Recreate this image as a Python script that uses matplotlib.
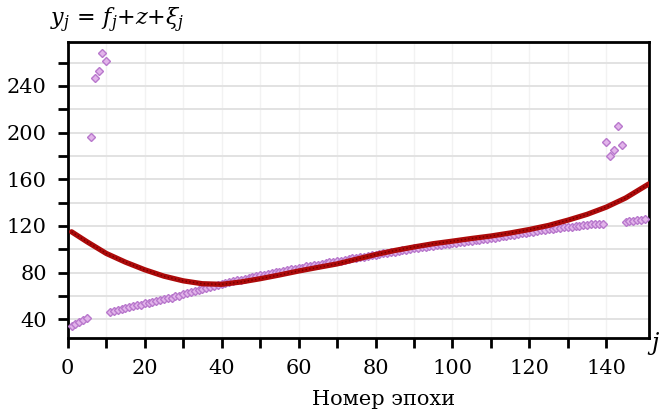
import matplotlib
matplotlib.use('Agg')
import matplotlib.pyplot as plt
import numpy as np

plt.rcParams['font.family'] = 'DejaVu Serif'
plt.rcParams['mathtext.fontset'] = 'dejavuserif'

# observed values y_j, epochs 1..150
epochs = np.arange(1, 151)
y_obs = [
    34.0, 35.9, 37.4, 39.4, 41.0,
    196.0, 247.0, 253.0, 268.0, 261.0,
    46.0, 47.2, 47.9, 48.9, 49.5, 50.6, 51.1, 52.1, 52.7, 53.6,
    54.1, 55.1, 55.5, 56.6, 57.1, 58.1, 58.6, 59.7, 60.3, 61.4,
    62.2, 63.1, 63.9, 65.1, 65.9, 67.1, 67.7, 68.8, 69.4, 70.5,
    71.2, 71.9, 72.5, 73.5, 73.9, 74.9, 75.4, 76.4, 76.9, 77.7,
    78.1, 79.1, 79.5, 80.3, 80.8, 81.6, 82.1, 82.9, 83.3, 84.1,
    84.4, 85.3, 85.7, 86.4, 86.9, 87.6, 88.0, 88.8, 89.1, 89.9,
    90.3, 91.1, 91.4, 92.2, 92.6, 93.3, 93.7, 94.4, 94.8, 95.5,
    95.9, 96.6, 96.9, 97.7, 98.0, 98.7, 99.0, 99.7, 100.0, 100.7,
    101.0, 101.7, 102.0, 102.7, 102.9, 103.6, 103.9, 104.5, 104.8, 105.4,
    105.7, 106.3, 106.5, 107.2, 107.4, 108.0, 108.2, 108.8, 109.0, 109.6,
    110.1, 110.8, 111.0, 111.7, 111.9, 112.6, 112.9, 113.7, 114.1, 114.9,
    115.2, 115.9, 116.2, 116.9, 117.1, 117.8, 118.0, 118.6, 118.8, 119.4,
    119.5, 120.1, 120.2, 120.7, 120.8, 121.3, 121.3, 121.7, 121.7,
    192.0, 180.0, 185.0, 206.0, 189.0,
    123.4, 124.1, 124.4, 125.1, 125.4, 126.1,
]

# fitted trend f_j + z
fit_j = [1, 5, 10, 15, 20, 25, 30, 35, 40, 45, 50, 55, 60, 65, 70, 75,
         80, 85, 90, 95, 100, 105, 110, 115, 120, 125, 130, 135, 140, 145, 150, 151]
fit_y = [115.0, 106.5, 96.5, 89.0, 82.5, 77.0, 73.0, 70.5, 70.0, 72.0,
         74.8, 78.0, 81.4, 84.5, 87.5, 91.5, 95.5, 99.0, 102.0, 104.8,
         107.0, 109.3, 111.4, 114.0, 117.0, 120.5, 125.0, 130.0, 136.2,
         144.0, 154.0, 156.0]

fig = plt.figure(figsize=(6.64, 4.16), dpi=100)
ax = fig.add_axes([0.102, 0.1875, 0.875, 0.7125])

ax.plot(epochs, y_obs, linestyle='none', marker='D', markersize=4.2,
        markerfacecolor='#e2b4ea', markeredgecolor='#b878cc',
        markeredgewidth=1.0, zorder=3)
ax.plot(fit_j, fit_y, color='#ad0a0a', linewidth=3.8, zorder=4,
        solid_capstyle='round', solid_joinstyle='round')
ax.plot(fit_j, fit_y, color='#700000', linewidth=1.0, linestyle=':',
        zorder=5)

ax.set_xlim(0, 151)
ax.set_ylim(24, 278)

ax.set_xticks(np.arange(0, 150, 10))
ax.set_xticklabels([str(v) if v % 20 == 0 else '' for v in range(0, 150, 10)])
ax.set_yticks(np.arange(40, 280, 20))
ax.set_yticklabels([str(v) if v % 40 == 0 else '' for v in range(40, 280, 20)])

ax.tick_params(direction='out', length=7, width=2, labelsize=15, pad=8)
for s in ax.spines.values():
    s.set_linewidth(2)

ax.grid(axis='y', color='#e2e2e2', linewidth=1.4)
ax.grid(axis='x', color='#f2f2f2', linewidth=1.0)
ax.set_axisbelow(True)

ax.set_xlabel('Номер эпохи', fontsize=15, labelpad=9, x=0.543)
fig.text(0.075, 0.95, r'$y_j\,=\,f_j{+}z{+}\xi_j$', fontsize=16,
         ha='left', va='center')
fig.text(0.985, 0.175, r'$j$', fontsize=17, ha='center', va='center')

fig.savefig('out.png', dpi=100)
